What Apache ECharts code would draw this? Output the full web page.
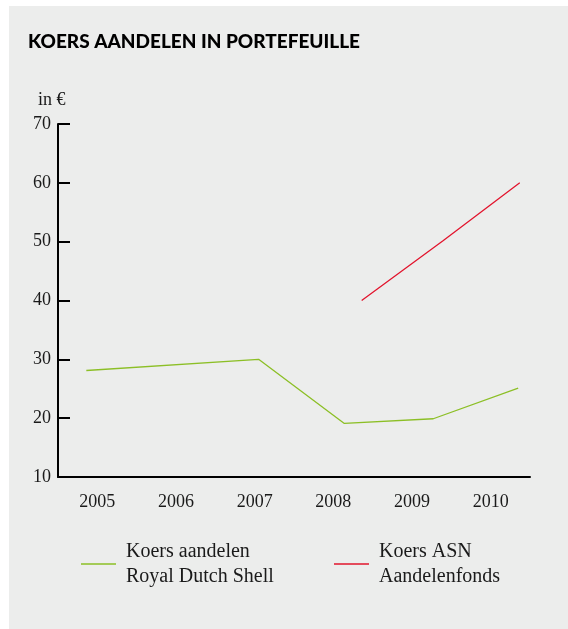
<!DOCTYPE html>
<html>
<head>
<meta charset="utf-8">
<script src="https://cdn.jsdelivr.net/npm/echarts@6/dist/echarts.min.js"></script>
<style>
  html, body { margin: 0; padding: 0; background: #ffffff; }
  #panel { position: absolute; left: 9px; top: 6px; width: 559px; height: 623px; background: #ecedec; }
  #chart { position: absolute; left: 0; top: 0; width: 568px; height: 629px; }
</style>
</head>
<body>
<div id="panel"></div>
<div id="chart"></div>
<script>
// year labels on the axis
var years = ["2005", "2006", "2007", "2008", "2009", "2010"];

// Royal Dutch Shell: [position in years, koers]
var shellX = [2005.36, 2007.55, 2008.64, 2009.77, 2010.85];
var shellY = [28.1, 30.0, 19.1, 19.9, 25.1];

// ASN Aandelenfonds
var asnX = [2008.86, 2009.89, 2010.87];
var asnY = [40.0, 50.1, 60.0];

var yTicks = { min: 10, max: 70, interval: 10 };

function pairs(xs, ys) {
  return xs.map(function (x, i) { return [x, ys[i]]; });
}

var serif = "Liberation Serif";
var green = "#8cbf26";
var red = "#e2142d";

var myChart = echarts.init(document.getElementById("chart"));

var option = {
  animation: false,
  title: {
    text: "KOERS AANDELEN IN PORTEFEUILLE",
    left: 28,
    top: 32,
    padding: 0,
    textStyle: { fontFamily: "Lato", fontWeight: 900, fontSize: 19, color: "#000" }
  },
  graphic: [{
    type: "text",
    left: 38,
    top: 91,
    style: { text: "in €", font: "18px " + serif, fill: "#1a1a1a" }
  }],
  grid: { left: 58, right: 38, top: 124, bottom: 152 },
  legend: [
    {
      data: ["Koers aandelen\nRoyal Dutch Shell"],
      left: 81, top: 539, padding: 0,
      icon: "rect", itemWidth: 35, itemHeight: 1.5,
      textStyle: { fontFamily: serif, fontSize: 20, lineHeight: 25, color: "#1a1a1a", padding: [0, 0, 0, 5] }
    },
    {
      data: ["Koers ASN\nAandelenfonds"],
      left: 334, top: 539, padding: 0,
      icon: "rect", itemWidth: 35, itemHeight: 1.5,
      textStyle: { fontFamily: serif, fontSize: 20, lineHeight: 25, color: "#1a1a1a", padding: [0, 0, 0, 5] }
    }
  ],
  xAxis: [
    {
      type: "category",
      data: years,
      boundaryGap: true,
      axisLine: { lineStyle: { color: "#000", width: 2 } },
      axisTick: { inside: true, length: 8, lineStyle: { color: "#000", width: 2 } },
      axisLabel: { fontFamily: serif, fontSize: 18, color: "#1a1a1a", margin: 16 },
      splitLine: { show: false }
    },
    {
      type: "value",
      min: 2005, max: 2011,
      show: false
    }
  ],
  yAxis: {
    type: "value",
    min: yTicks.min, max: yTicks.max, interval: yTicks.interval,
    axisLine: { show: true, lineStyle: { color: "#000", width: 2 } },
    axisTick: { show: true, inside: true, length: 12, lineStyle: { color: "#000", width: 2 } },
    axisLabel: { fontFamily: serif, fontSize: 18, color: "#1a1a1a", margin: 7 },
    splitLine: { show: false }
  },
  series: [
    {
      name: "Koers aandelen\nRoyal Dutch Shell",
      type: "line",
      xAxisIndex: 1,
      data: pairs(shellX, shellY),
      showSymbol: false,
      itemStyle: { color: green },
      lineStyle: { color: green, width: 1.3 }
    },
    {
      name: "Koers ASN\nAandelenfonds",
      type: "line",
      xAxisIndex: 1,
      data: pairs(asnX, asnY),
      showSymbol: false,
      itemStyle: { color: red },
      lineStyle: { color: red, width: 1.3 }
    }
  ]
};

myChart.setOption(option);
</script>
</body>
</html>
